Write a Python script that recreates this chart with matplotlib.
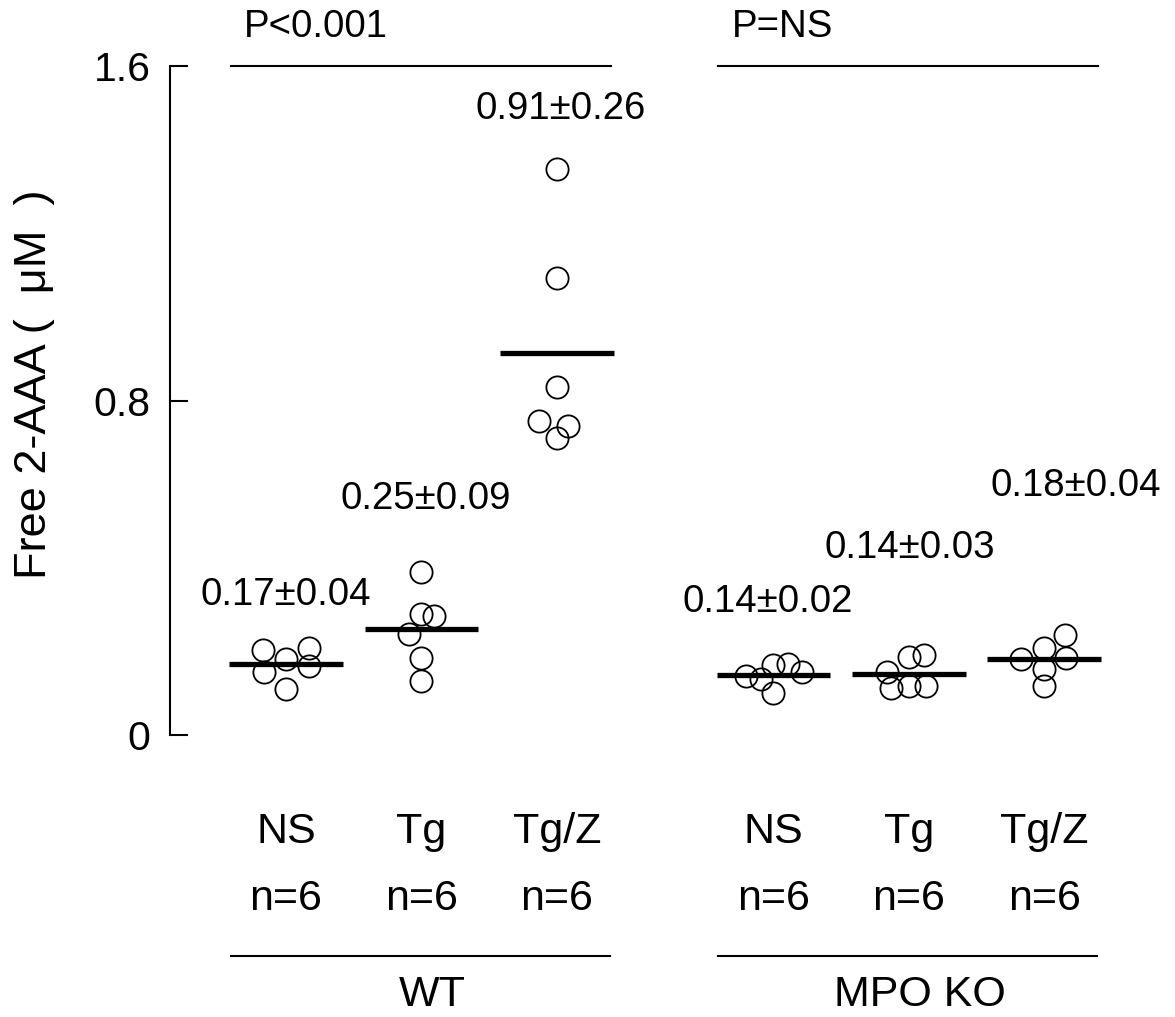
''' Free 2-AAA in WT and MPO KO mice, scatter with group means. '''
import matplotlib
matplotlib.use('Agg')
import matplotlib.pyplot as plt
import numpy as np

plt.rcParams['font.family'] = ['Liberation Sans', 'DejaVu Sans']

# data (uM)
cond = ['NS', 'Tg', 'Tg/Z', 'NS', 'Tg', 'Tg/Z']
n_labels = ['n=6', 'n=6', 'n=6', 'n=6', 'n=6', 'n=6']
wt_ns = [0.203, 0.181, 0.207, 0.150, 0.165, 0.109]
wt_tg = [0.391, 0.289, 0.285, 0.241, 0.183, 0.128]
wt_tgz = [1.353, 1.094, 0.833, 0.751, 0.740, 0.711]
ko_ns = [0.140, 0.134, 0.167, 0.171, 0.150, 0.100]
ko_tg = [0.187, 0.191, 0.150, 0.112, 0.118, 0.118]
ko_tgz = [0.239, 0.207, 0.182, 0.185, 0.158, 0.117]
mean_sd = ['0.17±0.04', '0.25±0.09', '0.91±0.26',
           '0.14±0.02', '0.14±0.03', '0.18±0.04']
genotypes = ['WT', 'MPO KO']
pvals = ['P<0.001', 'P=NS']

series = [wt_ns, wt_tg, wt_tgz, ko_ns, ko_tg, ko_tgz]
# horizontal spread of the overlapping circles (in group units)
jitter = [[-0.17, 0, 0.17, -0.16, 0.17, 0],
          [0, 0, 0.09, -0.09, 0, 0],
          [0, 0, 0, -0.13, 0.08, 0],
          [-0.20, -0.09, 0, 0.105, 0.21, 0],
          [0, 0.115, -0.16, -0.13, 0, 0.125],
          [0.15, 0, -0.17, 0.16, 0, 0]]
pos = np.array([0, 1, 2, 3.6, 4.6, 5.6])
# where the mean+-sd labels sit (x shift, baseline y)
lab_dx = [0, 0.03, 0.03, -0.04, 0.01, 0.23]
lab_y = [0.311, 0.540, 1.473, 0.293, 0.423, 0.572]

W, H = 1175, 1017
fig = plt.figure(figsize=(W/100, H/100), dpi=100)
ax = fig.add_axes([170/W, 282/H, 1005/W, 669/H])

for i in range(len(series)):
    y = np.array(series[i])
    x = pos[i] + np.array(jitter[i])
    ax.plot(x, y, 'o', ms=16, mfc='none', mec='black', mew=1.3,
            clip_on=False, zorder=3)
    m = np.mean(y)
    ax.plot([pos[i]-0.42, pos[i]+0.42], [m, m], color='black', lw=3.8,
            solid_capstyle='butt', zorder=4)
    ax.text(pos[i]+lab_dx[i], lab_y[i], mean_sd[i], ha='center',
            va='baseline', fontsize=27.6)
    ax.text(pos[i], -0.259, cond[i], ha='center', va='baseline', fontsize=31)
    ax.text(pos[i], -0.4186, n_labels[i], ha='center', va='baseline',
            fontsize=31)

for g in range(2):
    p0, p1 = pos[3*g], pos[3*g+2]
    ax.plot([p0-0.41, p1+0.40], [1.6, 1.6], color='black', lw=1.5,
            clip_on=False)
    ax.plot([p0-0.41, p1+0.39], [-0.528, -0.528], color='black', lw=1.5,
            clip_on=False)
    ax.text((p0+p1)/2+0.08, -0.649, genotypes[g], ha='center',
            va='baseline', fontsize=31)
    ax.text(p0-0.31, 1.670, pvals[g], ha='left', va='baseline', fontsize=27.6)

ax.set_xlim(-0.857, 6.566)
ax.set_ylim(0, 1.6)
for s in ['top', 'right', 'bottom']:
    ax.spines[s].set_visible(False)
ax.spines['left'].set_linewidth(1.5)
ax.set_xticks([])
ax.set_yticks([0, 0.8, 1.6])
ax.set_yticklabels(['0', '0.8', '1.6'])
ax.tick_params(axis='y', direction='in', length=13, width=1.5, pad=14,
               labelsize=29.5)

fig.text(35/W, 0.622, 'Free 2-AAA (  μM  )', rotation=90, ha='center',
         va='center', fontsize=32.5)

plt.savefig('out.png', dpi=100)
